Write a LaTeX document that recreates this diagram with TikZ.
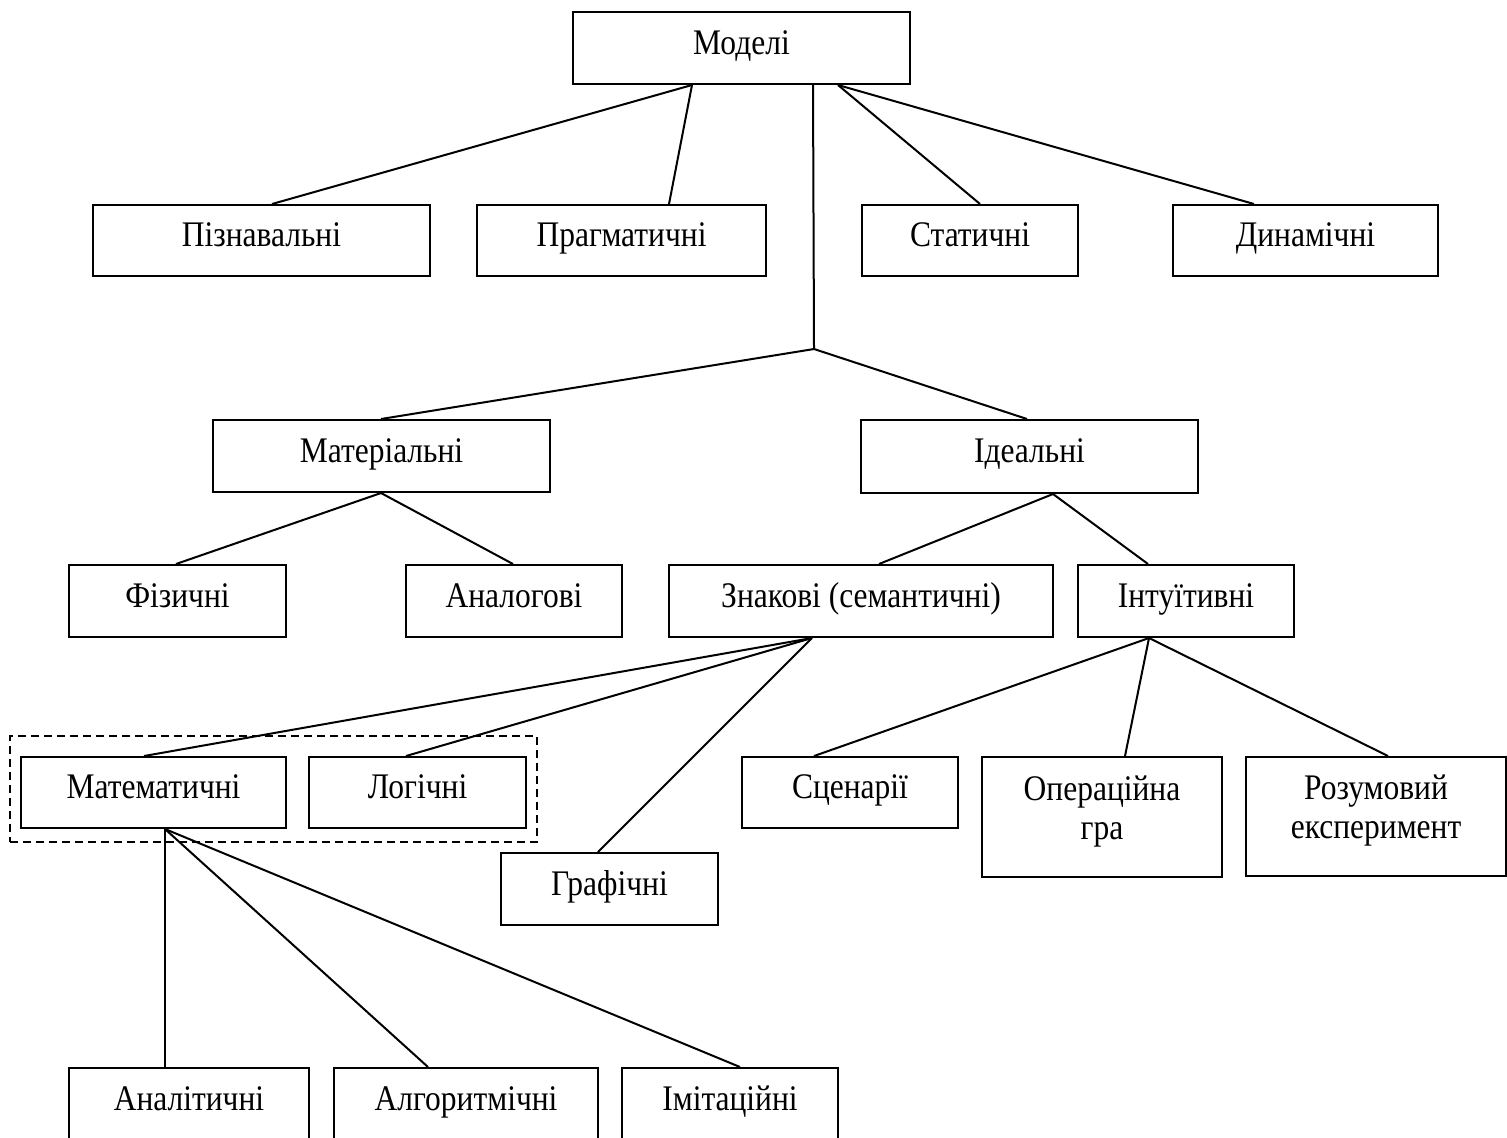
\documentclass[tikz,border=0pt]{standalone}
\usepackage{fontspec}
\setmainfont{Liberation Serif}[FakeStretch=0.875]
\usetikzlibrary{calc}

\begin{document}
\begin{tikzpicture}[
  x=0.5pt, y=-0.5pt,
  line width=1pt,
  txt/.style={font=\fontsize{18pt}{19.5pt}\selectfont},
  sz/.style 2 args={minimum width=#1*0.5pt, minimum height=#2*0.5pt},
  box/.style={draw, rectangle, inner sep=0pt, txt, text height=0.74em, text depth=0.12em},
  twoline/.style={txt, align=center, inner sep=0pt, yshift=3pt},
  grpbox/.style={draw, rectangle, inner sep=0pt, dash pattern=on 4pt off 2.5pt},
  link/.style={line width=1pt}
]
\useasboundingbox (0,0) rectangle (1507,1137);

% top level
\node[box, sz={337}{72}] (m) at (741.5,48) {Моделі};

% first row of kinds
\node[box, sz={337}{71}] (pz) at (261.5,240.5) {Пізнавальні};
\node[box, sz={289}{71}] (pr) at (621.5,240.5) {Прагматичні};
\node[box, sz={216}{71}] (st) at (970,240.5) {Статичні};
\node[box, sz={265}{71}] (dn) at (1305.5,240.5) {Динамічні};

% material / ideal branch
\coordinate (j) at (814,349);
\node[box, sz={337}{72}] (mt) at (381.5,456) {Матеріальні};
\node[box, sz={337}{73}] (id) at (1029.5,456.5) {Ідеальні};

\node[box, sz={217}{72}] (fz) at (177.5,601) {Фізичні};
\node[box, sz={216}{72}] (an) at (514,601) {Аналогові};
\node[box, sz={384}{72}] (zn) at (861,601) {Знакові (семантичні)};
\node[box, sz={216}{72}] (in) at (1186,601) {Інтуїтивні};

% sign models
\node[grpbox, sz={527}{106}] (grp) at (273.5,789) {};
\node[box, sz={265}{71}] (mat) at (153.5,792.5) {Математичні};
\node[box, sz={217}{71}] (lg) at (417.5,792.5) {Логічні};
\node[box, sz={217}{72}] (gr) at (609.5,889) {Графічні};

% intuitive models
\node[box, sz={216}{71}] (sc) at (850,792.5) {Сценарії};
\node[box, sz={240}{120}, label={[twoline, name=opt]center:Операційна\\гра}] (op) at (1102,817) {};
\node[box, sz={260}{119}, label={[twoline, name=rzt]center:Розумовий\\експеримент}] (rz) at (1376,816.5) {};

% mathematical models
\node[box, sz={240}{72}] (al) at (189,1104) {Аналітичні};
\node[box, sz={264}{72}] (ag) at (466,1104) {Алгоритмічні};
\node[box, sz={216}{72}] (im) at (730,1104) {Імітаційні};

% connectors
\draw[link] ($(m.south west)+(120,0)$) -- ($(pz.north west)+(180,0)$);
\draw[link] ($(m.south west)+(120,0)$) -- ($(pr.north west)+(193,0)$);
\draw[link] ($(m.south west)+(266,0)$) -- ($(st.north west)+(119,0)$);
\draw[link] ($(m.south west)+(266,0)$) -- ($(dn.north west)+(82,0)$);
\draw[link] ($(m.south west)+(241,0)$) -- (j);

\draw[link] (j) -- ($(mt.north west)+(169,0)$);
\draw[link] (j) -- ($(id.north west)+(167,0)$);

\draw[link] ($(mt.south west)+(169,0)$) -- ($(fz.north west)+(108,0)$);
\draw[link] ($(mt.south west)+(169,0)$) -- ($(an.north west)+(108,0)$);
\draw[link] ($(id.south west)+(193,0)$) -- ($(zn.north west)+(211,0)$);
\draw[link] ($(id.south west)+(193,0)$) -- ($(in.north west)+(71,0)$);

\draw[link] ($(zn.south west)+(144,0)$) -- ($(mat.north west)+(124,0)$);
\draw[link] ($(zn.south west)+(144,0)$) -- ($(lg.north west)+(98,0)$);
\draw[link] ($(zn.south west)+(144,0)$) -- ($(gr.north west)+(98,0)$);

\draw[link] ($(in.south west)+(72,0)$) -- ($(sc.north west)+(73,0)$);
\draw[link] ($(in.south west)+(72,0)$) -- ($(op.north west)+(144,0)$);
\draw[link] ($(in.south west)+(72,0)$) -- ($(rz.north west)+(143,0)$);

\draw[link] ($(mat.south west)+(145,0)$) -- ($(al.north west)+(97,0)$);
\draw[link] ($(mat.south west)+(145,0)$) -- ($(ag.north west)+(95,0)$);
\draw[link] ($(mat.south west)+(145,0)$) -- ($(im.north west)+(119,0)$);
\end{tikzpicture}
\end{document}
